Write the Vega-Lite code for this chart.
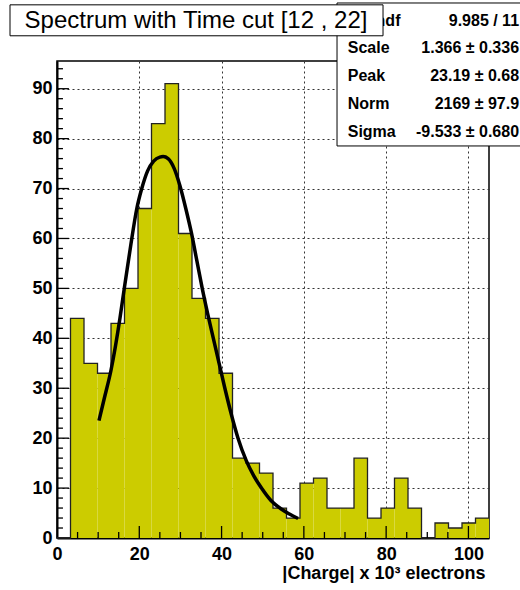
{
  "$schema": "https://vega.github.io/schema/vega-lite/v6.json",
  "width": 432,
  "height": 477,
  "autosize": "none",
  "padding": {"left": 57, "top": 61, "right": 31, "bottom": 52},
  "background": "white",
  "config": {"view": {"stroke": "black", "strokeWidth": 1.5}, "font": "Liberation Sans"},
  "datasets": {
    "hist": [
      {"x0": 0, "x1": 3.281, "count": 0},
      {"x0": 3.281, "x1": 6.563, "count": 44},
      {"x0": 6.563, "x1": 9.844, "count": 35},
      {"x0": 9.844, "x1": 13.125, "count": 33},
      {"x0": 13.125, "x1": 16.406, "count": 43},
      {"x0": 16.406, "x1": 19.688, "count": 50},
      {"x0": 19.688, "x1": 22.969, "count": 66},
      {"x0": 22.969, "x1": 26.25, "count": 83},
      {"x0": 26.25, "x1": 29.531, "count": 91},
      {"x0": 29.531, "x1": 32.813, "count": 61},
      {"x0": 32.813, "x1": 36.094, "count": 48},
      {"x0": 36.094, "x1": 39.375, "count": 44},
      {"x0": 39.375, "x1": 42.656, "count": 33},
      {"x0": 42.656, "x1": 45.938, "count": 16},
      {"x0": 45.938, "x1": 49.219, "count": 15},
      {"x0": 49.219, "x1": 52.5, "count": 13},
      {"x0": 52.5, "x1": 55.781, "count": 6},
      {"x0": 55.781, "x1": 59.063, "count": 4},
      {"x0": 59.063, "x1": 62.344, "count": 11},
      {"x0": 62.344, "x1": 65.625, "count": 12},
      {"x0": 65.625, "x1": 68.906, "count": 6},
      {"x0": 68.906, "x1": 72.188, "count": 6},
      {"x0": 72.188, "x1": 75.469, "count": 16},
      {"x0": 75.469, "x1": 78.75, "count": 4},
      {"x0": 78.75, "x1": 82.031, "count": 6},
      {"x0": 82.031, "x1": 85.313, "count": 12},
      {"x0": 85.313, "x1": 88.594, "count": 6},
      {"x0": 88.594, "x1": 91.875, "count": 0},
      {"x0": 91.875, "x1": 95.156, "count": 3},
      {"x0": 95.156, "x1": 98.438, "count": 2},
      {"x0": 98.438, "x1": 101.719, "count": 3},
      {"x0": 101.719, "x1": 105, "count": 4}
    ],
    "fit": [
      {"charge": 10.2, "fit": 23.5},
      {"charge": 11.5, "fit": 28},
      {"charge": 13.1, "fit": 33.5},
      {"charge": 15.3, "fit": 44},
      {"charge": 16.35, "fit": 50},
      {"charge": 17.9, "fit": 58.5},
      {"charge": 19.4, "fit": 66},
      {"charge": 20.6, "fit": 70},
      {"charge": 22, "fit": 73.5},
      {"charge": 23.5, "fit": 75.5},
      {"charge": 25, "fit": 76.3},
      {"charge": 25.8, "fit": 76.4},
      {"charge": 27, "fit": 76},
      {"charge": 28.5, "fit": 74},
      {"charge": 29.9, "fit": 70.5},
      {"charge": 31.3, "fit": 66},
      {"charge": 32.7, "fit": 61},
      {"charge": 34, "fit": 55.5},
      {"charge": 35.3, "fit": 50},
      {"charge": 36.6, "fit": 45},
      {"charge": 38, "fit": 40},
      {"charge": 39.4, "fit": 35},
      {"charge": 40.8, "fit": 30},
      {"charge": 42.3, "fit": 25},
      {"charge": 44, "fit": 20},
      {"charge": 46, "fit": 15.5},
      {"charge": 47.8, "fit": 12.5},
      {"charge": 49.7, "fit": 10},
      {"charge": 52, "fit": 7.5},
      {"charge": 54.5, "fit": 5.8},
      {"charge": 56.5, "fit": 4.8},
      {"charge": 58.6, "fit": 3.9}
    ],
    "xmajor": [{"t": 20}, {"t": 40}, {"t": 60}, {"t": 80}, {"t": 100}],
    "xminor": [{"t": 5}, {"t": 10}, {"t": 15}, {"t": 25}, {"t": 30}, {"t": 35}, {"t": 45}, {"t": 50}, {"t": 55}, {"t": 65}, {"t": 70}, {"t": 75}, {"t": 85}, {"t": 90}, {"t": 95}],
    "ymajor": [{"t": 10}, {"t": 20}, {"t": 30}, {"t": 40}, {"t": 50}, {"t": 60}, {"t": 70}, {"t": 80}, {"t": 90}],
    "yminor": [{"t": 2}, {"t": 4}, {"t": 6}, {"t": 8}, {"t": 12}, {"t": 14}, {"t": 16}, {"t": 18}, {"t": 22}, {"t": 24}, {"t": 26}, {"t": 28}, {"t": 32}, {"t": 34}, {"t": 36}, {"t": 38}, {"t": 42}, {"t": 44}, {"t": 46}, {"t": 48}, {"t": 52}, {"t": 54}, {"t": 56}, {"t": 58}, {"t": 62}, {"t": 64}, {"t": 66}, {"t": 68}, {"t": 72}, {"t": 74}, {"t": 76}, {"t": 78}, {"t": 82}, {"t": 84}, {"t": 86}, {"t": 88}, {"t": 92}, {"t": 94}]
  },
  "layer": [
    {
      "data": {"name": "hist"},
      "mark": {"type": "rect", "fill": "#cccc00"},
      "encoding": {
        "x": {
          "field": "x0", "type": "quantitative",
          "scale": {"domain": [0, 105], "nice": false, "zero": false},
          "axis": {
            "values": [0, 20, 40, 60, 80, 100],
            "tickCount": 200, "format": "d", "ticks": false,
            "grid": true,
            "gridOpacity": {"condition": {"test": "datum.value > 0", "value": 1}, "value": 0},
            "gridDash": [2, 3], "gridColor": "#333", "gridWidth": 1,
            "domainColor": "black", "domainWidth": 2,
            "labelFont": "Liberation Sans", "labelFontSize": 18, "labelFontWeight": "bold", "labelColor": "black",
            "labelPadding": 7, "labelFlush": false, "labelOverlap": false,
            "title": "|Charge| x 10³ electrons",
            "titleFont": "Liberation Sans", "titleFontSize": 18, "titleFontWeight": "bold", "titleColor": "black",
            "titleAnchor": "end", "titleAlign": "right", "titleX": 428, "titlePadding": 1
          }
        },
        "x2": {"field": "x1"},
        "y": {
          "field": "count", "type": "quantitative",
          "scale": {"domain": [0, 95.55], "nice": false, "zero": true},
          "axis": {
            "values": [0, 10, 20, 30, 40, 50, 60, 70, 80, 90],
            "tickCount": 200, "format": "d", "ticks": false,
            "grid": true,
            "gridOpacity": {"condition": {"test": "datum.value > 0", "value": 1}, "value": 0},
            "gridDash": [2, 3], "gridColor": "#333", "gridWidth": 1,
            "domainColor": "black", "domainWidth": 2,
            "labelFont": "Liberation Sans", "labelFontSize": 18, "labelFontWeight": "bold", "labelColor": "black",
            "labelPadding": 5, "labelFlush": false, "labelOverlap": false,
            "title": null
          }
        },
        "y2": {"datum": 0}
      }
    },
    {
      "data": {"name": "hist"},
      "transform": [{"fold": ["x0", "x1"], "as": ["edge", "xe"]}],
      "mark": {"type": "line", "stroke": "#222", "strokeWidth": 1.3},
      "encoding": {
        "x": {"field": "xe", "type": "quantitative"},
        "y": {"field": "count", "type": "quantitative"},
        "order": [{"field": "xe", "type": "quantitative"}, {"field": "edge", "sort": "descending"}]
      }
    },
    {
      "data": {"name": "xmajor"},
      "mark": {"type": "rule", "color": "black", "strokeWidth": 1.3},
      "encoding": {"x": {"field": "t", "type": "quantitative"}, "y": {"datum": 0}, "y2": {"datum": 2.4}}
    },
    {
      "data": {"name": "xminor"},
      "mark": {"type": "rule", "color": "black", "strokeWidth": 1.3},
      "encoding": {"x": {"field": "t", "type": "quantitative"}, "y": {"datum": 0}, "y2": {"datum": 1.2}}
    },
    {
      "data": {"name": "ymajor"},
      "mark": {"type": "rule", "color": "black", "strokeWidth": 1.3},
      "encoding": {"y": {"field": "t", "type": "quantitative"}, "x": {"datum": 0}, "x2": {"datum": 2.9}}
    },
    {
      "data": {"name": "yminor"},
      "mark": {"type": "rule", "color": "black", "strokeWidth": 1.3},
      "encoding": {"y": {"field": "t", "type": "quantitative"}, "x": {"datum": 0}, "x2": {"datum": 1.45}}
    },
    {
      "data": {"name": "fit"},
      "mark": {"type": "line", "stroke": "black", "strokeWidth": 3.5, "interpolate": "monotone", "strokeCap": "butt"},
      "encoding": {
        "x": {"field": "charge", "type": "quantitative"},
        "y": {"field": "fit", "type": "quantitative"}
      }
    },
    {
      "data": {"values": [{}]},
      "mark": {"type": "rect", "fill": "white", "stroke": "black", "strokeWidth": 1, "clip": false},
      "encoding": {
        "x": {"datum": 68.06}, "x2": {"datum": 113},
        "y": {"datum": 107.17}, "y2": {"datum": 78.53}
      }
    },
    {
      "data": {"values": [{}]},
      "mark": {"type": "text", "align": "left", "baseline": "middle", "font": "Liberation Sans", "fontSize": 16, "fontWeight": "bold", "lineHeight": 27.75, "color": "black", "clip": false},
      "encoding": {
        "x": {"datum": 70.66}, "y": {"datum": 103.63},
        "text": {"value": ["χ² / ndf", "Scale", "Peak", "Norm", "Sigma"]}
      }
    },
    {
      "data": {"values": [{}]},
      "mark": {"type": "text", "align": "right", "baseline": "middle", "font": "Liberation Sans", "fontSize": 16, "fontWeight": "bold", "lineHeight": 27.75, "color": "black", "clip": false},
      "encoding": {
        "x": {"datum": 112.3}, "y": {"datum": 103.63},
        "text": {"value": ["9.985 / 11", "1.366 ± 0.336", "23.19 ± 0.68", "2169 ± 97.9", "-9.533 ± 0.680"]}
      }
    },
    {
      "data": {"values": [{}]},
      "mark": {"type": "rect", "fill": "white", "stroke": "black", "strokeWidth": 1, "clip": false},
      "encoding": {
        "x": {"datum": -11.42}, "x2": {"datum": 79.24},
        "y": {"datum": 106.8}, "y2": {"datum": 100.6}
      }
    },
    {
      "data": {"values": [{}]},
      "mark": {"type": "text", "align": "center", "baseline": "middle", "font": "Liberation Sans", "fontSize": 24, "color": "black", "clip": false},
      "encoding": {
        "x": {"datum": 33.79}, "y": {"datum": 103.6},
        "text": {"value": "Spectrum with Time cut [12 , 22]"}
      }
    }
  ]
}
